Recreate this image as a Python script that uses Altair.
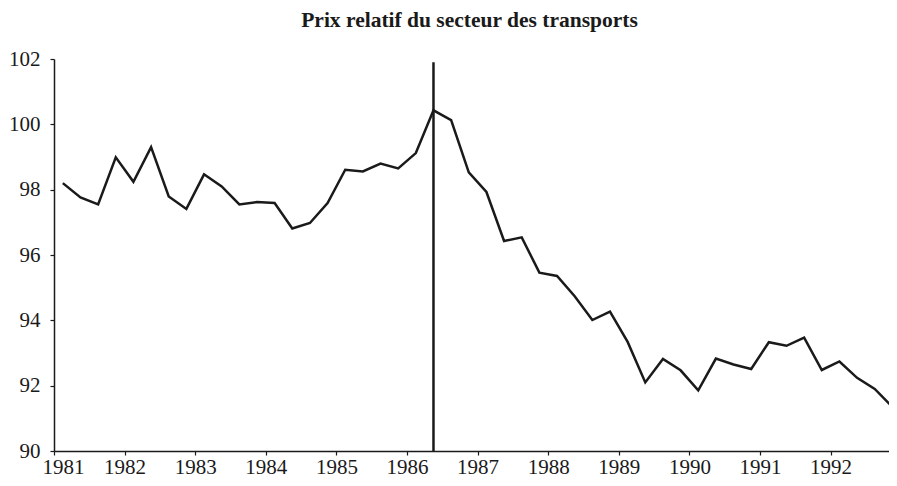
import altair as alt
import pandas as pd

years = [y for y in range(1981, 1993) for _ in range(4)]
quarters = [1, 2, 3, 4] * 12
values = [98.20, 97.76, 97.55, 98.99, 98.24, 99.30, 97.79, 97.41,
          98.47, 98.10, 97.55, 97.62, 97.59, 96.81, 96.98, 97.59,
          98.61, 98.56, 98.80, 98.65, 99.12, 100.43, 100.13, 98.53,
          97.93, 96.43, 96.54, 95.46, 95.36, 94.74, 94.01, 94.27,
          93.34, 92.10, 92.82, 92.47, 91.86, 92.83, 92.65, 92.51,
          93.33, 93.22, 93.47, 92.48, 92.74, 92.24, 91.90, 91.35]

# vertical marker (1986 Q2)
marker_year = [1986]
marker_quarter = [2]
marker_low = [90]
marker_high = [101.9]

year_ticks = list(range(1981, 1993))

df = pd.DataFrame({"year": years, "quarter": quarters, "value": values})
mk = pd.DataFrame({"year": marker_year, "quarter": marker_quarter,
                   "lo": marker_low, "hi": marker_high})

FONT = "Liberation Serif"
xscale = alt.Scale(domain=[1981, 1992.827], nice=False, zero=False)
yscale = alt.Scale(domain=[90, 102], nice=False, zero=False)

line = alt.Chart(df).transform_calculate(
    t="datum.year + (datum.quarter - 0.5) / 4"
).mark_line(color="#1a1a1a", strokeWidth=2.5, clip=False).encode(
    x=alt.X("t:Q", scale=xscale,
            axis=alt.Axis(values=year_ticks, format="d", title=None,
                          labelFont=FONT, labelFontSize=21, labelColor="#1a1a1a",
                          labelPadding=1, tickSize=4, tickColor="#1a1a1a",
                          domainColor="#1a1a1a", domainWidth=1.5, tickWidth=1.2,
                          grid=False, labelFlush=True, labelFlushOffset=12,
                          labelOverlap=False)),
    y=alt.Y("value:Q", scale=yscale,
            axis=alt.Axis(values=[90, 92, 94, 96, 98, 100, 102], title=None,
                          labelFont=FONT, labelFontSize=21, labelColor="#1a1a1a",
                          labelPadding=10, tickSize=4, tickColor="#1a1a1a",
                          domainColor="#1a1a1a", domainWidth=1.5, tickWidth=1.2,
                          grid=False, labelFlush=False)),
)

rule = alt.Chart(mk).transform_calculate(
    t="datum.year + (datum.quarter - 0.5) / 4"
).mark_rule(color="#1a1a1a", strokeWidth=2.5).encode(
    x=alt.X("t:Q", scale=xscale),
    y=alt.Y("lo:Q", scale=yscale),
    y2="hi:Q",
)

chart = alt.layer(line, rule).properties(
    width=835, height=392,
    autosize=alt.AutoSizeParams(type="none"),
    padding={"left": 46, "top": 51, "right": 0, "bottom": 27},
    title=alt.TitleParams("Prix relatif du secteur des transports", font=FONT,
                          fontSize=21.5, fontWeight="bold", color="#1a1a1a",
                          anchor="middle", frame="group", dx=-2, offset=17),
).configure(background="white").configure_view(strokeWidth=0, stroke=None)

chart.save("out.html", embed_options={"renderer": "svg", "actions": False})
